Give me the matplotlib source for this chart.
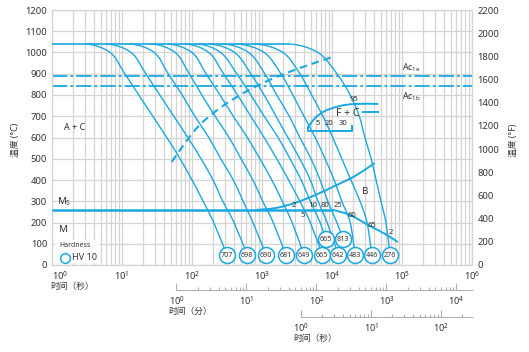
import numpy as np
import matplotlib
matplotlib.use('Agg')
import matplotlib.pyplot as plt
from matplotlib.path import Path
from matplotlib.patches import PathPatch, Rectangle
from matplotlib.ticker import (LogLocator, LogFormatterSciNotation, NullFormatter,
                               MultipleLocator, FixedLocator)

plt.rcParams['font.family'] = ['Noto Sans', 'Noto Sans CJK SC', 'DejaVu Sans']
plt.rcParams['mathtext.fontset'] = 'custom'
plt.rcParams['mathtext.rm'] = 'Noto Sans'
plt.rcParams['mathtext.it'] = 'Noto Sans:italic'
plt.rcParams['mathtext.bf'] = 'Noto Sans:bold'
plt.rcParams['lines.scale_dashes'] = False

BLUE = '#1aa8e2'
GRID = '#d4d4d4'
TXT = '#333333'

# ---------------- data (time as log10 seconds, temperature in degC) ----------------
T_AUST = 1040
AC1E = 890
AC1B = 840
MS = 260
T_LEVELS = [1040, 1000, 900, 800, 700, 600, 500, 400, 300, 200]

c01 = [0.47, 0.83, 1.04, 1.24, 1.44, 1.64, 1.83, 2.00, 2.16, 2.31]
c02 = [0.77, 1.13, 1.34, 1.54, 1.74, 1.94, 2.13, 2.30, 2.44, 2.60]
c03 = [1.10, 1.46, 1.66, 1.86, 2.04, 2.24, 2.41, 2.59, 2.73, 2.87]
c04 = [1.41, 1.76, 1.96, 2.14, 2.33, 2.53, 2.70, 2.87, 3.01, 3.16]
c05 = [1.64, 2.00, 2.20, 2.40, 2.59, 2.79, 2.97, 3.14, 3.29, 3.43]
c06 = [1.89, 2.24, 2.45, 2.65, 2.84, 3.03, 3.21, 3.38, 3.54, 3.69]
c07 = [2.06, 2.41, 2.64, 2.84, 3.03, 3.23, 3.40, 3.56, 3.69, 3.83]
c08 = [2.24, 2.61, 2.84, 3.03, 3.20, 3.37, 3.54, 3.69, 3.80, 3.93]
c09 = [2.43, 2.81, 3.04, 3.21, 3.39, 3.54, 3.70, 3.83, 3.94, 4.07]
c10 = [2.63, 3.03, 3.27, 3.44, 3.60, 3.76, 3.90, 4.03, 4.14, 4.26]
c11 = [2.89, 3.30, 3.54, 3.71, 3.87, 4.01, 4.14, 4.27, 4.40, 4.50]
c12 = [3.37, 3.80, 4.07, 4.26, 4.39, 4.47, 4.56, 4.63, 4.70, 4.77]
cooling_logt = [c01, c02, c03, c04, c05, c06, c07, c08, c09, c10, c11, c12]

# hardness circles (end of each cooling curve)
hv_values = [707, 698, 690, 681, 649, 665, 665, 642, 813, 483, 446, 276]
hv_logt = [2.50, 2.79, 3.06, 3.34, 3.60, 3.86, 3.91, 4.09, 4.16, 4.33, 4.57, 4.83]
hv_T = [47, 47, 47, 47, 47, 47, 122, 47, 122, 47, 47, 47]

# transformation lines
dash_logt = [1.71, 1.90, 2.11, 2.40, 2.76, 3.11, 3.54, 4.01]
dash_T = [485, 574, 659, 739, 814, 871, 927, 979]
bs_logt = [2.91, 3.19, 3.47, 3.76, 4.04, 4.33, 4.61]
bs_T = [259, 268, 292, 329, 372, 419, 480]
bf_logt = [4.01, 4.26, 4.54, 4.76, 4.94]
bf_T = [260, 235, 184, 146, 108]
fs_logt = [3.66, 3.76, 3.90, 4.11, 4.33, 4.66]
fs_T = [649, 692, 725, 748, 758, 758]
fbr_logt = [3.66, 3.66, 4.29, 4.29]
fbr_T = [649, 631, 631, 654]
fshort_logt = [4.44, 4.66]
fshort_T = [720, 720]

# phase percentage labels
pct_text = ['95', '5', '20', '30', '2', '10', '80', '25', '5', '60', '65', '2']
pct_logt = [4.31, 3.79, 3.96, 4.16, 3.45, 3.73, 3.90, 4.09, 3.58, 4.29, 4.57, 4.84]
pct_T = [781, 664, 664, 664, 279, 279, 279, 279, 231, 231, 184, 154]

# secondary time axes
min_major = [1, 10, 100, 1000, 10000]
hour_major = [1, 10, 100]


def smooth_path(lx, ys, flat_start=False):
    P = np.column_stack([lx, ys]).astype(float)
    n = len(P)
    verts = [P[0]]
    codes = [Path.MOVETO]
    for i in range(n - 1):
        if i > 0:
            p0 = P[i - 1]
        elif flat_start:
            p0 = np.array([P[0, 0] - (P[1, 0] - P[0, 0]), P[1, 1]])
        else:
            p0 = P[i]
        p1 = P[i]
        p2 = P[i + 1]
        p3 = P[i + 2] if i + 2 < n else P[i + 1]
        verts += [p1 + (p2 - p0) / 6, p2 - (p3 - p1) / 6, p2]
        codes += [Path.CURVE4] * 3
    V = np.array(verts)
    V[:, 0] = 10 ** V[:, 0]
    return Path(V, codes)


fig = plt.figure(figsize=(5.29, 3.52), dpi=100)
L, B, W, H = 52 / 529, 87 / 352, 420 / 529, 255 / 352
ax = fig.add_axes([L, B, W, H])
ax.set_xscale('log')
ax.set_xlim(1, 1e6)
ax.set_ylim(0, 1200)

ax.xaxis.set_major_locator(FixedLocator([1, 10, 100, 1e3, 1e4, 1e5, 1e6]))
ax.xaxis.set_minor_locator(LogLocator(base=10, subs=np.arange(2, 10), numticks=100))
ax.xaxis.set_major_formatter(LogFormatterSciNotation())
ax.xaxis.set_minor_formatter(NullFormatter())
ax.yaxis.set_major_locator(MultipleLocator(100))
ax.grid(True, which='both', axis='x', color=GRID, lw=0.9)
ax.grid(True, which='major', axis='y', color=GRID, lw=0.9)
ax.set_axisbelow(True)
for s in ax.spines.values():
    s.set_color(GRID)
    s.set_linewidth(0.9)
ax.tick_params(which='both', length=0, labelsize=6.8, colors=TXT, pad=3.5)
ax.tick_params(axis='x', pad=3)

# Ac lines
for tv in (AC1E, AC1B):
    ax.plot([1, 1e6], [tv, tv], color=BLUE, lw=1.3, dashes=(11, 2.2, 2, 2.2), zorder=2)

# cooling curves: common austenitising plateau, then each curve
ax.plot([1, 10 ** max(c[0] for c in cooling_logt)], [T_AUST, T_AUST], color=BLUE, lw=1.2, zorder=3)
for lt, hl, ht in zip(cooling_logt, hv_logt, hv_T):
    xs = lt + [hl]
    ys = T_LEVELS + [ht]
    ax.add_patch(PathPatch(smooth_path(xs, ys, flat_start=True), fc='none', ec=BLUE,
                           lw=1.0, zorder=3))

# dashed line
ax.add_patch(PathPatch(smooth_path(dash_logt, dash_T), fc='none', ec=BLUE, lw=1.5,
                       linestyle=(0, (5.5, 3.5)), zorder=3))
# Ms line
ax.plot([1, 10 ** bf_logt[0]], [MS, MS], color=BLUE, lw=1.8, zorder=3, solid_capstyle='butt')
# bainite start / finish
ax.add_patch(PathPatch(smooth_path(bs_logt, bs_T), fc='none', ec=BLUE, lw=1.4, zorder=3))
ax.add_patch(PathPatch(smooth_path(bf_logt, bf_T), fc='none', ec=BLUE, lw=1.4, zorder=3))
# ferrite region
ax.add_patch(PathPatch(smooth_path(fs_logt, fs_T), fc='none', ec=BLUE, lw=1.4, zorder=3))
ax.plot(10 ** np.array(fbr_logt), fbr_T, color=BLUE, lw=1.4, zorder=3)
ax.plot(10 ** np.array(fshort_logt), fshort_T, color=BLUE, lw=1.4, zorder=3)

# hardness circles
ax.plot(10 ** np.array(hv_logt), hv_T, 'o', ms=11.5, mfc='white', mec=BLUE, mew=1.1, zorder=5)
for v, lx, t in zip(hv_values, hv_logt, hv_T):
    ax.text(10 ** lx, t, str(v), fontsize=5.2, color=TXT, ha='center', va='center', zorder=6)

for s, lx, t in zip(pct_text, pct_logt, pct_T):
    ax.text(10 ** lx, t, s, fontsize=5.5, color=TXT, ha='center', va='center', zorder=6)

# region labels
ax.text(10 ** 0.33, 645, 'A + C', fontsize=6.5, color=TXT, ha='center', va='center')
ax.text(10 ** 0.07, 300, r'M$_\mathregular{S}$', fontsize=7, color=TXT, ha='left', va='center')
ax.text(10 ** 0.10, 165, 'M', fontsize=7, color=TXT, ha='left', va='center')
ax.text(10 ** 4.47, 344, 'B', fontsize=7, color=TXT, ha='center', va='center')
ax.text(10 ** 4.23, 711, 'F + C', fontsize=7.5, color=TXT, ha='center', va='center', zorder=6)
ax.text(10 ** 5.13, 927, r'Ac$_{\mathregular{1e}}$', fontsize=6.3, color=TXT, ha='center', va='center')
ax.text(10 ** 5.13, 790, r'Ac$_{\mathregular{1b}}$', fontsize=6.3, color=TXT, ha='center', va='center')

# hardness legend with white background
ax.add_patch(Rectangle((10 ** 0.04, 8), 10 ** 0.68 - 10 ** 0.04, 112, transform=ax.transData,
                       fc='white', ec='none', zorder=1.5))
ax.text(10 ** 0.11, 94, 'Hardness', fontsize=5, color=TXT, ha='left', va='center', zorder=6)
ax.plot([10 ** 0.19], [33], 'o', ms=7, mfc='white', mec=BLUE, mew=1.1, zorder=6)
ax.text(10 ** 0.29, 33, 'HV 10', fontsize=6.5, color=TXT, ha='left', va='center', zorder=6)

# right axis in degF
ax2 = ax.twinx()
ax2.set_ylim(0, 2200)
ax2.yaxis.set_major_locator(MultipleLocator(200))
ax2.tick_params(length=0, labelsize=6.8, colors=TXT, pad=4)
for s in ax2.spines.values():
    s.set_visible(False)

fig.canvas.draw()
first = ax.get_xticklabels()[0]
first.set_horizontalalignment('left')

fig.text(15 / 529, 1 - 140 / 352, '温度 (°C)', rotation=90, fontsize=6.3, color=TXT,
         ha='center', va='center')
fig.text(513 / 529, 1 - 140 / 352, '温度 (°F)', rotation=90, fontsize=6.3, color=TXT,
         ha='center', va='center')
fig.text(50 / 529, 1 - 287 / 352, '时间（秒）', fontsize=6.3, color=TXT, ha='left', va='center')


def secondary(ypix, xmin, xmax, majors):
    a = fig.add_axes([L, 1 - ypix / 352, W, 0.0001])
    a.set_xscale('log')
    a.set_xlim(xmin, xmax)
    a.patch.set_visible(False)
    a.yaxis.set_visible(False)
    for k in ('top', 'left', 'right'):
        a.spines[k].set_visible(False)
    a.spines['bottom'].set_color('#b0b0b0')
    a.spines['bottom'].set_linewidth(0.8)
    a.spines['bottom'].set_bounds(1, xmax)
    minors = [m * d for d in majors for m in range(2, 10) if m * d <= xmax]
    a.xaxis.set_major_locator(FixedLocator(majors))
    a.xaxis.set_minor_locator(FixedLocator(minors))
    a.xaxis.set_major_formatter(LogFormatterSciNotation())
    a.xaxis.set_minor_formatter(NullFormatter())
    a.tick_params(which='major', direction='in', length=5, width=0.8, color='#b0b0b0',
                  labelsize=6.5, labelcolor=TXT, pad=3)
    a.tick_params(which='minor', direction='in', length=2.5, width=0.8, color='#b0b0b0')
    return a


secondary(290, 1 / 60, 1e6 / 60, min_major)
fig.text(168 / 529, 1 - 311 / 352, '时间（分）', fontsize=6.3, color=TXT, ha='left', va='center')
secondary(317, 1 / 3600, 1e6 / 3600, hour_major)
fig.text(293 / 529, 1 - 338.5 / 352, '时间（秒）', fontsize=6.3, color=TXT, ha='left', va='center')

fig.savefig('out.png', dpi=100)
